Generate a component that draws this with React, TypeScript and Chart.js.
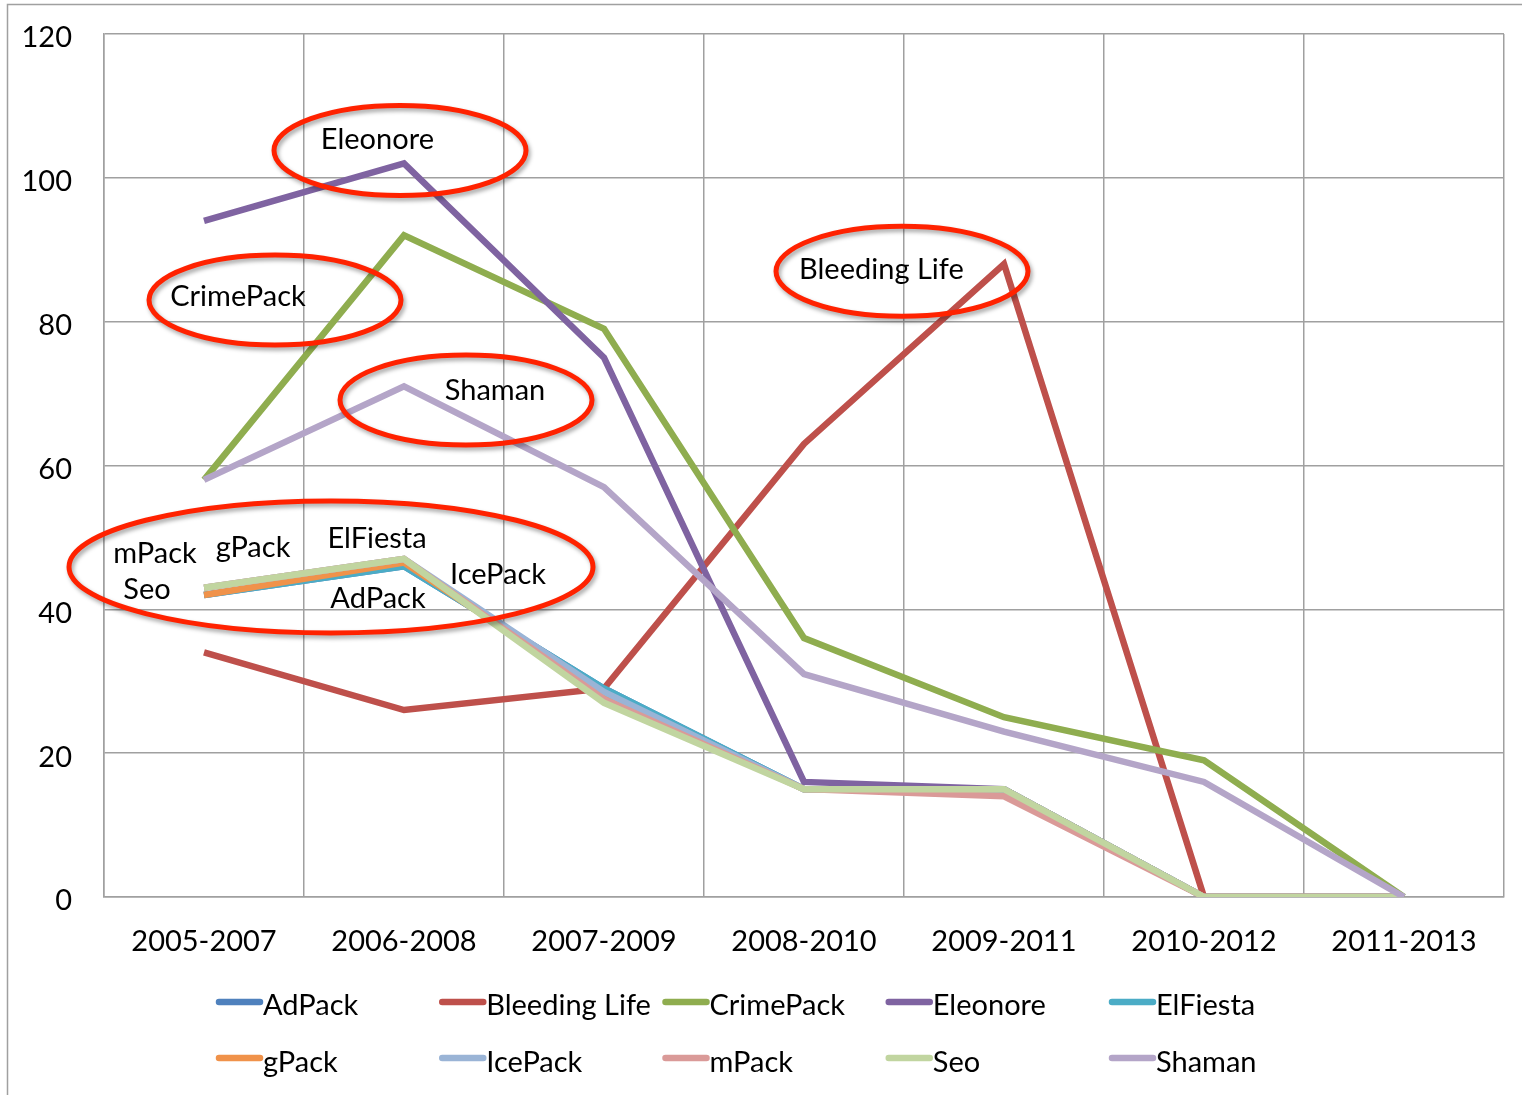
import React, { useEffect, useRef } from "react";
import { Chart, registerables } from "chart.js";

Chart.register(...registerables);

const categories = ["2005-2007", "2006-2008", "2007-2009", "2008-2010", "2009-2011", "2010-2012", "2011-2013"];

const adPack = [42, 46, 29, 15, 15, 0, 0];
const bleedingLife = [34, 26, 29, 63, 88, 0, 0];
const crimePack = [58, 92, 79, 36, 25, 19, 0];
const eleonore = [94, 102, 75, 16, 15, 0, 0];
const elFiesta = [42, 46, 29, 15, 15, 0, 0];
const gPack = [42, 46.5, 28, 15, 15, 0, 0];
const icePack = [43, 47, 28.5, 15, 15, 0, 0];
const mPack = [43, 47, 27.5, 15, 14, 0, 0];
const seo = [43, 47, 27, 15, 15, 0, 0];
const shaman = [58, 71, 57, 31, 23, 16, 0];

const seriesNames = ["AdPack", "Bleeding Life", "CrimePack", "Eleonore", "ElFiesta", "gPack", "IcePack", "mPack", "Seo", "Shaman"];
const seriesValues = [adPack, bleedingLife, crimePack, eleonore, elFiesta, gPack, icePack, mPack, seo, shaman];
const seriesColors = ["#4F81BD", "#BE504B", "#8FAD4F", "#7F63A1", "#4BACC6", "#F0924A", "#9AB4D6", "#DA9A98", "#C1D5A0", "#B4A5C8"];

const yTicks = [0, 20, 40, 60, 80, 100, 120];

// Callouts: centre in data space (category index, value), radii in pixels
const callouts = [
  { cx: 0.98, cy: 103.8, rx: 126, ry: 45 },
  { cx: 0.355, cy: 83, rx: 126, ry: 45 },
  { cx: 1.31, cy: 69.1, rx: 126, ry: 45 },
  { cx: 3.49, cy: 87, rx: 126, ry: 45 },
  { cx: 0.635, cy: 45.9, rx: 262, ry: 66 },
];
const calloutLabels = [
  { text: "Eleonore", x: 0.867, y: 104 },
  { text: "CrimePack", x: 0.17, y: 82.2 },
  { text: "Shaman", x: 1.455, y: 69.1 },
  { text: "Bleeding Life", x: 3.387, y: 85.9 },
  { text: "mPack", x: -0.245, y: 46.5 },
  { text: "gPack", x: 0.245, y: 47.3 },
  { text: "ElFiesta", x: 0.865, y: 48.5 },
  { text: "Seo", x: -0.285, y: 41.5 },
  { text: "AdPack", x: 0.87, y: 40.2 },
  { text: "IcePack", x: 1.47, y: 43.5 },
];

const FONT = "Lato, 'Open Sans', sans-serif";
const FS = 29;

const framePlugin = {
  id: "frame",
  beforeDraw(chart: any) {
    const ctx = chart.ctx;
    ctx.save();
    ctx.fillStyle = "#ffffff";
    ctx.fillRect(0, 0, chart.width, chart.height);
    ctx.strokeStyle = "#a0a0a0";
    ctx.lineWidth = 1.5;
    ctx.strokeRect(7.5, 4.5, chart.width + 20, chart.height + 20);
    ctx.restore();
  },
};

const calloutPlugin = {
  id: "callouts",
  afterDatasetsDraw(chart: any) {
    const ctx = chart.ctx;
    const xs = chart.scales.x;
    const ys = chart.scales.y;
    ctx.save();
    callouts.forEach((c) => {
      const px = xs.getPixelForValue(c.cx);
      const py = ys.getPixelForValue(c.cy);
      ctx.save();
      ctx.shadowColor = "rgba(0,0,0,0.35)";
      ctx.shadowBlur = 4;
      ctx.shadowOffsetX = 2;
      ctx.shadowOffsetY = 3;
      ctx.beginPath();
      ctx.ellipse(px, py, c.rx, c.ry, 0, 0, Math.PI * 2);
      ctx.strokeStyle = "#FF2200";
      ctx.lineWidth = 5;
      ctx.stroke();
      ctx.restore();
    });
    ctx.fillStyle = "#000000";
    ctx.font = `${FS}px ${FONT}`;
    ctx.textAlign = "center";
    ctx.textBaseline = "alphabetic";
    calloutLabels.forEach((l) => {
      ctx.fillText(l.text, xs.getPixelForValue(l.x), ys.getPixelForValue(l.y));
    });
    ctx.restore();
  },
};

const legendPlugin = {
  id: "gridLegend",
  afterDraw(chart: any) {
    const ctx = chart.ctx;
    const cols = 5;
    const x0 = 216;
    const colW = 223.25;
    const rowSwatchY = [1002, 1058];
    const rowTextY = [1015, 1072];
    ctx.save();
    ctx.font = `${FS}px ${FONT}`;
    ctx.textAlign = "left";
    ctx.textBaseline = "alphabetic";
    chart.data.datasets.forEach((ds: any, i: number) => {
      const r = Math.floor(i / cols);
      const c = i % cols;
      const x = x0 + c * colW;
      ctx.beginPath();
      ctx.lineCap = "round";
      ctx.lineWidth = 6.5;
      ctx.strokeStyle = ds.borderColor;
      ctx.moveTo(x + 3, rowSwatchY[r]);
      ctx.lineTo(x + 44, rowSwatchY[r]);
      ctx.stroke();
      ctx.fillStyle = "#000000";
      ctx.fillText(ds.label, x + 47, rowTextY[r]);
    });
    ctx.restore();
  },
};

export default function App() {
  const ref = useRef<HTMLCanvasElement | null>(null);
  useEffect(() => {
    document.body.style.margin = "0";
    const canvas = ref.current!;
    const chart = new Chart(canvas, {
      type: "line",
      data: {
        labels: categories,
        datasets: seriesNames.map((name, i) => ({
          label: name,
          data: seriesValues[i],
          borderColor: seriesColors[i],
          backgroundColor: seriesColors[i],
          borderWidth: 6.5,
          pointRadius: 0,
          pointHoverRadius: 0,
          tension: 0,
          fill: false,
          order: -i,
        })),
      },
      options: {
        responsive: false,
        animation: false,
        devicePixelRatio: 1,
        layout: { padding: { left: 0, right: 18, top: 34, bottom: 128 } },
        plugins: {
          legend: { display: false },
          tooltip: { enabled: false },
        },
        scales: {
          x: {
            offset: true,
            grid: { offset: true, color: "#a0a0a0", lineWidth: 1.5, drawTicks: false },
            border: { color: "#a0a0a0", width: 1.5 },
            ticks: { color: "#000", font: { family: FONT, size: FS }, padding: 27, maxRotation: 0 },
            afterFit: (s: any) => {
              s.height = 70;
              s.paddingLeft = 0;
              s.paddingRight = 0;
            },
          },
          y: {
            min: 0,
            max: 120,
            afterBuildTicks: (s: any) => {
              s.ticks = yTicks.map((v) => ({ value: v }));
            },
            grid: { color: "#a0a0a0", lineWidth: 1.5, drawTicks: false },
            border: { color: "#a0a0a0", width: 1.5 },
            ticks: { color: "#000", font: { family: FONT, size: FS }, padding: 32, labelOffset: 4 },
            afterFit: (s: any) => {
              s.width = 104;
              s.paddingTop = 0;
              s.paddingBottom = 0;
            },
          },
        },
      },
      plugins: [framePlugin, calloutPlugin, legendPlugin],
    });
    return () => chart.destroy();
  }, []);
  return (
    <div>
      <canvas ref={ref} width={1522} height={1095} style={{ display: "block" }} />
    </div>
  );
}
